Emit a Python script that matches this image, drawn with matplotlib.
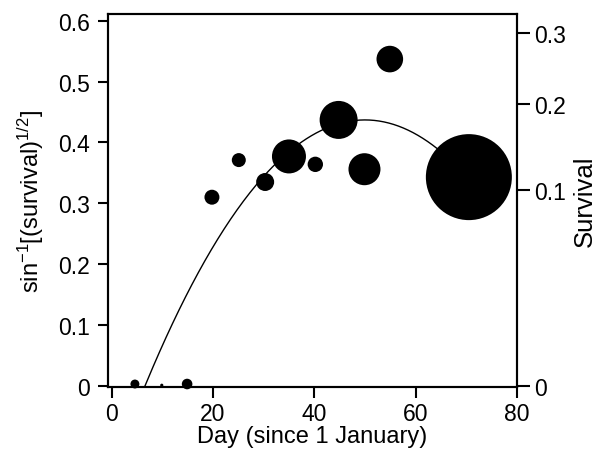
import numpy as np
import matplotlib
matplotlib.use("Agg")
import matplotlib.pyplot as plt

plt.rcParams['font.family'] = ['Liberation Sans', 'DejaVu Sans']
plt.rcParams['mathtext.fontset'] = 'custom'
plt.rcParams['mathtext.rm'] = 'Liberation Sans'
plt.rcParams['mathtext.it'] = 'Liberation Sans'

# observations: day, arcsine-transformed survival, relative sample size
day = [4.6, 9.9, 14.9, 19.8, 25.1, 30.3, 35.0, 40.2, 44.8, 49.9, 54.9, 70.5]
asin_surv = [0.003, 0.001, 0.003, 0.310, 0.371, 0.335, 0.377, 0.364, 0.437, 0.356, 0.537, 0.343]
sample_n = [20, 2.5, 28, 56, 49, 81, 289, 59, 361, 256, 177, 1849]

# fitted curve
curve_day = [6.6, 10, 15, 20, 25, 30, 35, 40, 45, 50, 55, 60, 65, 70]
curve_val = [0.0, 0.066, 0.153, 0.228, 0.292, 0.344, 0.385, 0.414, 0.431, 0.437, 0.431, 0.414, 0.385, 0.344]

xticks = [0, 20, 40, 60, 80]
yticks = [0, 0.1, 0.2, 0.3, 0.4, 0.5, 0.6]
surv_ticks = [0, 0.1, 0.2, 0.3]

fig = plt.figure(figsize=(5.97, 4.56), dpi=100)
ax = fig.add_axes([0.181, 0.149, 0.685, 0.818])

coef = np.polyfit(curve_day, curve_val, 2)
xs = np.linspace(curve_day[0], curve_day[-1], 200)
ax.plot(xs, np.polyval(coef, xs), color='black', lw=1.0, zorder=2)

# marker area in pt^2 from radius in px (r^2 ~ n)
sizes = [(2 * np.sqrt(n) * 0.72) ** 2 for n in sample_n]
ax.scatter(day, asin_surv, s=sizes, color='black', edgecolors='none', zorder=3, clip_on=False)

ax.set_xlim(-0.7, 80)
ax.set_ylim(-0.002, 0.611)
ax.set_xticks(xticks)
ax.set_xticklabels([str(t) for t in xticks])
ax.set_yticks(yticks)
ax.set_yticklabels(['0'] + [f'{t:.1f}' for t in yticks[1:]])

for sp in ax.spines.values():
    sp.set_linewidth(1.5)
ax.tick_params(axis='x', direction='out', length=8, width=1.5, labelsize=16.5, pad=3)
ax.tick_params(axis='y', direction='out', length=7, width=1.5, labelsize=16.5, pad=6)

ax.set_xlabel('Day (since 1 January)', fontsize=17, labelpad=0)
ax.set_ylabel(r'sin$^{-1}$[(survival)$^{1/2}$]', fontsize=17, labelpad=9)

ax2 = ax.twinx()
ax2.set_ylim(ax.get_ylim())
ax2.set_yticks(np.arcsin(np.sqrt(surv_ticks)))
ax2.set_yticklabels(['0'] + [f'{t:.1f}' for t in surv_ticks[1:]])
ax2.tick_params(direction='out', length=9, width=1.5, labelsize=16.5, pad=3)
for sp in ax2.spines.values():
    sp.set_linewidth(1.5)
ax2.set_ylabel('Survival', fontsize=18.5, labelpad=5)

fig.savefig('out.png', dpi=100)
